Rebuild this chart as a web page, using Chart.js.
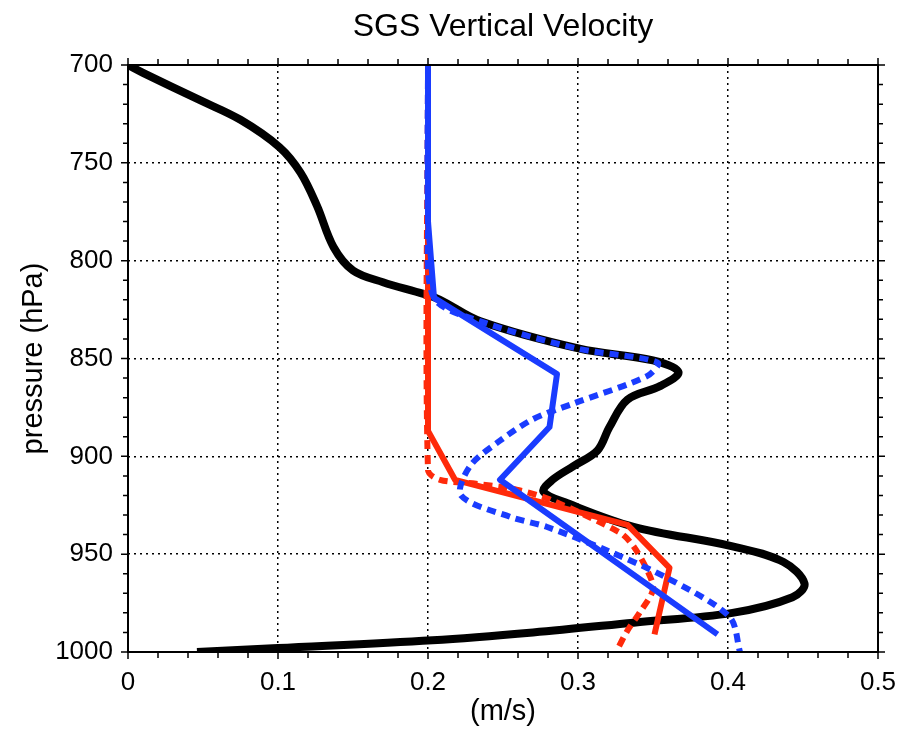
<!DOCTYPE html>
<html>
<head>
<meta charset="utf-8">
<script src="https://cdn.jsdelivr.net/npm/chart.js@4.4.1/dist/chart.umd.min.js"></script>
<style>
  body { margin: 0; background: #fff; }
  #wrap { width: 900px; height: 729px; }
</style>
</head>
<body>
<div id="wrap"><canvas id="sgsChart" width="900" height="729"></canvas></div>
<script>
// values: velocity (m/s) and pressure (hPa)
const blackX = [0, 0.01, 0.048, 0.075, 0.101, 0.115, 0.126, 0.137, 0.15, 0.17, 0.197, 0.208, 0.235, 0.301, 0.35, 0.367, 0.355, 0.333, 0.321, 0.313, 0.297, 0.283, 0.277, 0.293, 0.337, 0.403, 0.437, 0.451, 0.443, 0.403, 0.337, 0.27, 0.203, 0.1, 0.046];
const blackP = [700, 704, 718, 728, 742, 755, 772, 793, 805, 811, 817, 820, 831, 845, 851, 857, 864, 871, 885, 897, 905, 912, 918, 924, 936, 946, 954, 965, 972, 980, 985, 990, 994, 998, 1000];

const blueX = [0.2, 0.2, 0.204, 0.286, 0.281, 0.248, 0.393];
const blueP = [700, 780, 819, 858, 885, 912, 991];

const blueDotX = [0.2, 0.2, 0.204, 0.235, 0.3, 0.353, 0.346, 0.297, 0.27, 0.248, 0.228, 0.222, 0.255, 0.279, 0.319, 0.359, 0.401, 0.408];
const blueDotP = [700, 780, 819, 831, 845, 852, 859, 873, 881, 892, 905, 920, 931, 936, 948, 962, 982, 1000];

const redX = [0.2, 0.2, 0.218, 0.333, 0.361, 0.351];
const redP = [700, 887, 912, 935, 957, 991];

const redDotX = [0.2, 0.2, 0.208, 0.232, 0.259, 0.281, 0.328, 0.337, 0.346, 0.35, 0.341, 0.333, 0.326];
const redDotP = [700, 907, 912, 914, 917, 922, 939, 946, 958, 968, 980, 989, 999];

const xTicks = [0, 0.1, 0.2, 0.3, 0.4, 0.5];
const pTicks = [700, 750, 800, 850, 900, 950, 1000];

function pts(xs, ps) {
    return xs.map((x, i) => ({ x: x, y: ps[i] }));
}

const FONT = '"Liberation Sans", Arial, sans-serif';

// small tick marks on all four sides, pointing out of the frame
const frameTicks = {
    id: 'frameTicks',
    afterDraw(chart) {
        const ctx = chart.ctx;
        const a = chart.chartArea;
        const xs = chart.scales.x, ys = chart.scales.y;
        ctx.save();
        ctx.strokeStyle = '#000';
        ctx.lineWidth = 1.5;
        ctx.beginPath();
        for (let i = 0; i <= 25; i++) {
            const px = xs.getPixelForValue(i * 0.02);
            const len = (i % 5 === 0) ? 7 : 6;
            ctx.moveTo(px, a.top); ctx.lineTo(px, a.top - len);
            ctx.moveTo(px, a.bottom); ctx.lineTo(px, a.bottom + len);
        }
        for (let i = 0; i <= 30; i++) {
            const py = ys.getPixelForValue(700 + i * 10);
            const len = (i % 5 === 0) ? 7 : 5;
            ctx.moveTo(a.left, py); ctx.lineTo(a.left - len, py);
            ctx.moveTo(a.right, py); ctx.lineTo(a.right + len, py);
        }
        ctx.stroke();
        ctx.lineWidth = 2;
        ctx.strokeRect(a.left, a.top, a.right - a.left, a.bottom - a.top);
        ctx.restore();
    }
};

// first dataset is drawn on top
const ctx = document.getElementById('sgsChart').getContext('2d');
new Chart(ctx, {
    type: 'scatter',
    data: {
        datasets: [
            { data: pts(blueDotX, blueDotP), borderColor: '#1a3cff', borderWidth: 6, borderDash: [9, 6], tension: 0.3 },
            { data: pts(blueX, blueP), borderColor: '#1a3cff', borderWidth: 6, tension: 0 },
            { data: pts(redDotX, redDotP), borderColor: '#ff2a0a', borderWidth: 6, borderDash: [9, 6], tension: 0.3 },
            { data: pts(redX, redP), borderColor: '#ff2a0a', borderWidth: 6, tension: 0 },
            { data: pts(blackX, blackP), borderColor: '#000', borderWidth: 8, tension: 0.35 }
        ].map(d => Object.assign(d, { showLine: true, pointRadius: 0, fill: false, borderCapStyle: 'butt', borderJoinStyle: 'round' }))
    },
    options: {
        responsive: false,
        animation: false,
        layout: { padding: { top: 0, right: 22, left: 0, bottom: 0 } },
        plugins: {
            legend: { display: false },
            tooltip: { enabled: false },
            title: {
                display: true,
                text: 'SGS Vertical Velocity',
                fullSize: false,
                color: '#000',
                font: { family: FONT, size: 32, weight: 'normal' },
                padding: { top: 8, bottom: 18.6 }
            }
        },
        scales: {
            x: {
                type: 'linear',
                min: 0,
                max: 0.5,
                afterBuildTicks: s => { s.ticks = xTicks.map(v => ({ value: v })); },
                afterFit: s => { s.height = 77; s.paddingLeft = 0; s.paddingRight = 0; },
                grid: { color: '#000', lineWidth: 1.5, drawTicks: false },
                border: { display: false, dash: [2, 4] },
                ticks: { color: '#000', padding: 15, font: { family: FONT, size: 26 }, callback: v => String(v) },
                title: { display: true, text: '(m/s)', color: '#000', font: { family: FONT, size: 29 }, padding: { top: 0, bottom: 0 } }
            },
            y: {
                type: 'linear',
                reverse: true,
                min: 700,
                max: 1000,
                afterBuildTicks: s => { s.ticks = pTicks.map(v => ({ value: v })); },
                afterFit: s => { s.width = 128; },
                grid: { color: '#000', lineWidth: 1.5, drawTicks: false },
                border: { display: false, dash: [2, 4] },
                ticks: { color: '#000', padding: 15, font: { family: FONT, size: 26 }, callback: v => String(v) },
                title: { display: true, text: 'pressure (hPa)', color: '#000', font: { family: FONT, size: 29 }, padding: { bottom: 0, top: 17 } }
            }
        }
    },
    plugins: [frameTicks]
});
</script>
</body>
</html>
